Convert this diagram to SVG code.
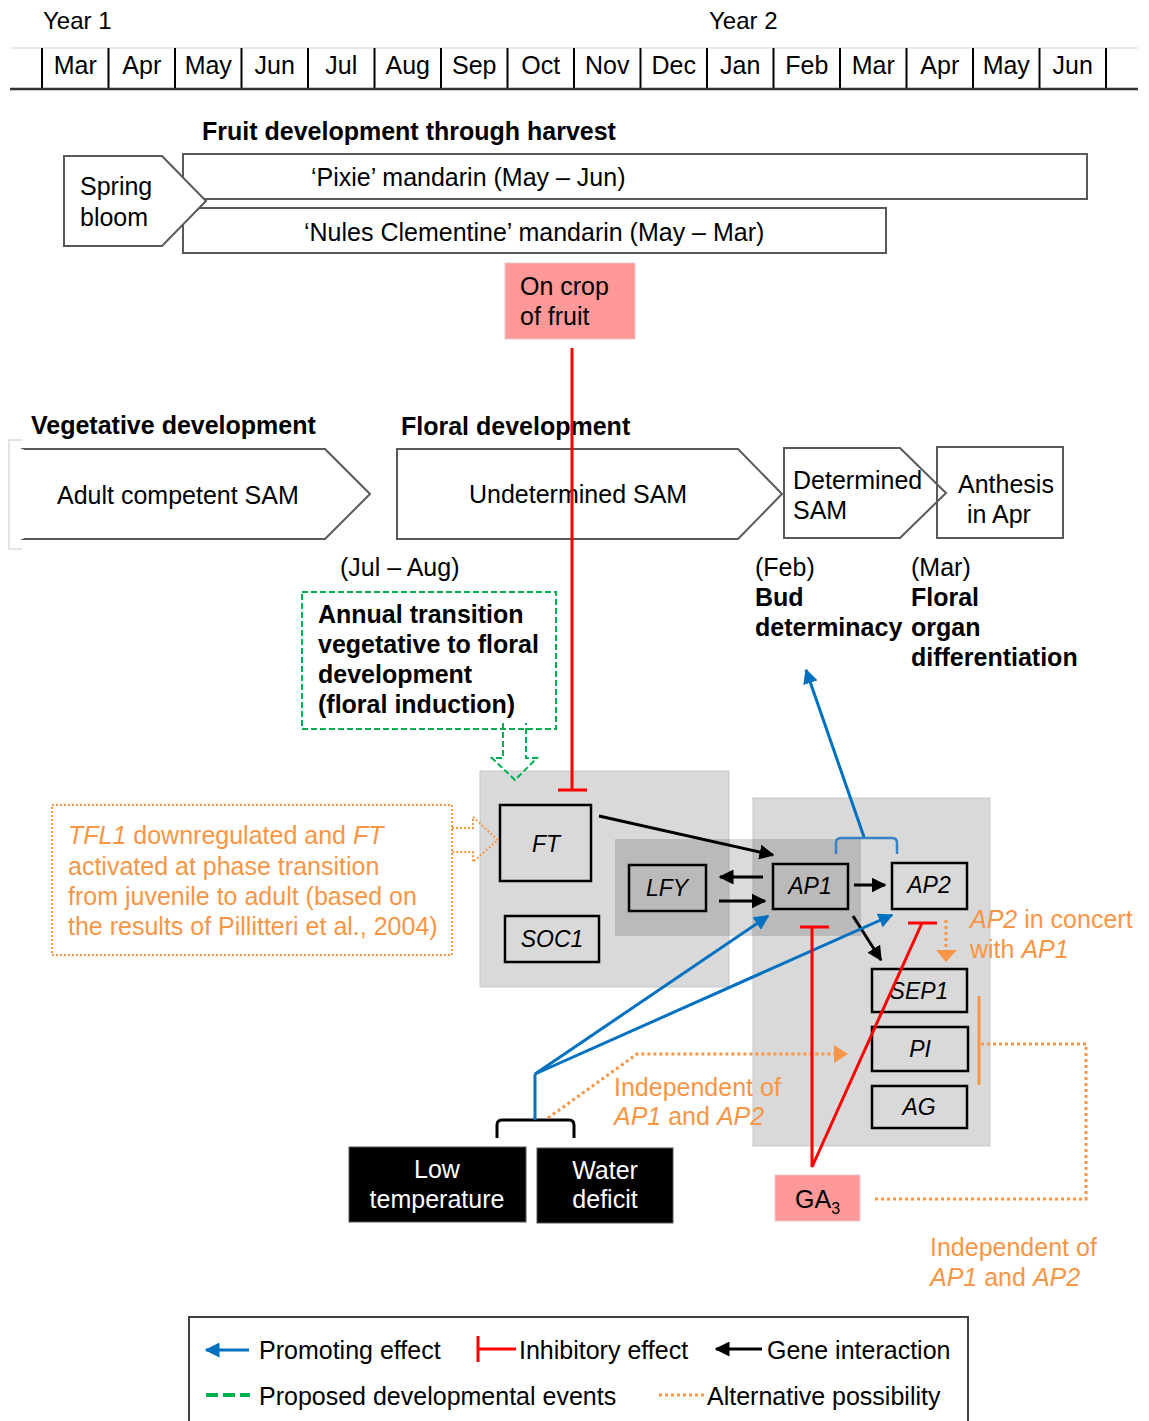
<svg xmlns="http://www.w3.org/2000/svg" width="1149" height="1421" viewBox="0 0 1149 1421">
<style>
text{font-family:"Liberation Sans",Arial,sans-serif;font-size:25px;fill:#000}
.yr{font-size:24px}
.mo{text-anchor:middle}
.b{font-weight:bold}
.it{font-style:italic}
.gene{font-size:23px;font-style:italic;text-anchor:middle}
.or{fill:#F79646}
.wh{fill:#fff;text-anchor:middle}
.shape{fill:#fff;stroke:#595959;stroke-width:2}
.gbox{fill:none;stroke:#000;stroke-width:2.5}
.panel{fill:#D9D9D9;stroke:#C8C8C8;stroke-width:1}
.pink{fill:#FF9999;stroke:#E8C8C8;stroke-width:1}
.blk{stroke:#000;stroke-width:3;fill:none}
.blue{stroke:#0070C0;stroke-width:3;fill:none}
.red{stroke:#FF0000;stroke-width:3;fill:none}
.dot{stroke:#F79646;stroke-width:3;stroke-dasharray:3 3;fill:none}
.dotthin{stroke:#F79646;stroke-width:2;stroke-dasharray:2 2;fill:none}
.gdash{stroke:#00B050;stroke-width:2;stroke-dasharray:6 3;fill:none}
</style>
<defs>
<marker id="ahK" viewBox="0 0 10 10" refX="9" refY="5" markerWidth="15" markerHeight="15" markerUnits="userSpaceOnUse" orient="auto"><path d="M0,0 L10,5 L0,10 z" fill="#000"/></marker>
<marker id="ahB" viewBox="0 0 10 10" refX="9" refY="5" markerWidth="15" markerHeight="15" markerUnits="userSpaceOnUse" orient="auto"><path d="M0,0 L10,5 L0,10 z" fill="#0070C0"/></marker>
</defs>

<g id="timeline">
<text class="yr" x="43" y="29">Year 1</text>
<text class="yr" x="709" y="29">Year 2</text>
<line x1="10" y1="48" x2="1138" y2="48" stroke="#e2e2e2" stroke-width="1.5"/>
<g stroke="#000" stroke-width="2">
<line x1="42" y1="48" x2="42" y2="88"/><line x1="108.5" y1="48" x2="108.5" y2="88"/><line x1="175" y1="48" x2="175" y2="88"/><line x1="241.5" y1="48" x2="241.5" y2="88"/><line x1="308" y1="48" x2="308" y2="88"/><line x1="374.5" y1="48" x2="374.5" y2="88"/><line x1="441" y1="48" x2="441" y2="88"/><line x1="507.5" y1="48" x2="507.5" y2="88"/><line x1="574" y1="48" x2="574" y2="88"/><line x1="640.5" y1="48" x2="640.5" y2="88"/><line x1="707" y1="48" x2="707" y2="88"/><line x1="773.5" y1="48" x2="773.5" y2="88"/><line x1="840" y1="48" x2="840" y2="88"/><line x1="906.5" y1="48" x2="906.5" y2="88"/><line x1="973" y1="48" x2="973" y2="88"/><line x1="1039.5" y1="48" x2="1039.5" y2="88"/><line x1="1106" y1="48" x2="1106" y2="88"/>
</g>
<line x1="10" y1="89" x2="1138" y2="89" stroke="#333" stroke-width="2.5"/>
<text class="mo" x="75.25" y="74">Mar</text><text class="mo" x="141.75" y="74">Apr</text><text class="mo" x="208.25" y="74">May</text><text class="mo" x="274.75" y="74">Jun</text><text class="mo" x="341.25" y="74">Jul</text><text class="mo" x="407.75" y="74">Aug</text><text class="mo" x="474.25" y="74">Sep</text><text class="mo" x="540.75" y="74">Oct</text><text class="mo" x="607.25" y="74">Nov</text><text class="mo" x="673.75" y="74">Dec</text><text class="mo" x="740.25" y="74">Jan</text><text class="mo" x="806.75" y="74">Feb</text><text class="mo" x="873.25" y="74">Mar</text><text class="mo" x="939.75" y="74">Apr</text><text class="mo" x="1006.25" y="74">May</text><text class="mo" x="1072.75" y="74">Jun</text>
</g>

<text class="b" x="202" y="140">Fruit development through  harvest</text>

<g id="pixie"><rect class="shape" x="183" y="154" width="904" height="45"/><text x="311" y="186">‘Pixie’ mandarin (May – Jun)</text></g>
<g id="nules"><rect class="shape" x="183" y="208" width="703" height="45"/><text x="304" y="241">‘Nules Clementine’ mandarin (May – Mar)</text></g>
<g id="spring-bloom"><polygon class="shape" points="64,156 162,156 206,201 162,246 64,246"/><text x="80" y="195">Spring</text><text x="80" y="226">bloom</text></g>

<g id="on-crop"><rect class="pink" x="505" y="263" width="130" height="76"/><text x="520" y="295">On crop</text><text x="520" y="325">of fruit</text></g>

<text class="b" x="31" y="434">Vegetative development</text>
<text class="b" x="401" y="435">Floral development</text>

<g id="adult-sam"><polyline points="22,440 9,440 9,549 22,549" fill="none" stroke="#dcdcdc" stroke-width="1.5"/><polygon class="shape" points="22,449 325,449 370,494 325,539 22,539" /><line x1="22" y1="449" x2="22" y2="539" stroke="#fff" stroke-width="3"/><text x="57" y="504">Adult competent SAM</text></g>
<g id="undetermined-sam"><polygon class="shape" points="397,449 738,449 782,494 738,539 397,539"/><text x="469" y="503">Undetermined SAM</text></g>
<g id="determined-sam"><polygon class="shape" points="784,448 900,448 946,493 900,538 784,538"/><text x="793" y="489">Determined</text><text x="793" y="519">SAM</text></g>
<g id="anthesis"><rect x="937" y="447" width="126" height="91" fill="none" stroke="#595959" stroke-width="2"/><text x="958" y="493">Anthesis</text><text x="967" y="523">in Apr</text></g>

<text x="340" y="576">(Jul – Aug)</text>
<g id="bud-determinacy"><text x="755" y="576">(Feb)</text><text class="b" x="755" y="606">Bud</text><text class="b" x="755" y="636">determinacy</text></g>
<g id="floral-organ"><text x="911" y="576">(Mar)</text><text class="b" x="911" y="606">Floral</text><text class="b" x="911" y="636">organ</text><text class="b" x="911" y="666">differentiation</text></g>

<g id="annual-transition"><rect class="gdash" x="302" y="592" width="254" height="137"/><text class="b" x="318" y="623">Annual transition</text><text class="b" x="318" y="653">vegetative to floral</text><text class="b" x="318" y="683">development</text><text class="b" x="318" y="713">(floral induction)</text></g>

<g id="tfl1-note"><rect class="dotthin" x="52" y="805" width="400" height="150"/>
<text class="or" x="68" y="844"><tspan class="it">TFL1</tspan> downregulated and <tspan class="it">FT</tspan></text>
<text class="or" x="68" y="875">activated at phase transition</text>
<text class="or" x="68" y="905">from juvenile to adult (based on</text>
<text class="or" x="68" y="935">the results of Pillitteri et al., 2004)</text></g>

<g id="panels">
<rect class="panel" x="480" y="771" width="249" height="216"/>
<rect class="panel" x="753" y="798" width="237" height="348"/>
<rect x="615" y="839" width="246" height="97" fill="#000" fill-opacity="0.14"/>
</g>

<g id="FT"><rect class="gbox" x="500" y="805" width="91" height="76"/><text class="gene" x="546" y="852">FT</text></g>
<g id="LFY"><rect class="gbox" x="629" y="865" width="77" height="46"/><text class="gene" x="667" y="896">LFY</text></g>
<g id="SOC1"><rect class="gbox" x="505" y="916" width="94" height="46"/><text class="gene" x="552" y="947">SOC1</text></g>
<g id="AP1"><rect class="gbox" x="773" y="864" width="75" height="45"/><text class="gene" x="810" y="894">AP1</text></g>
<g id="AP2"><rect class="gbox" x="892" y="863" width="75" height="46"/><text class="gene" x="929" y="893">AP2</text></g>
<g id="SEP1"><rect class="gbox" x="872" y="969" width="95" height="43"/><text class="gene" x="919" y="999">SEP1</text></g>
<g id="PI"><rect class="gbox" x="872" y="1027" width="96" height="44"/><text class="gene" x="920" y="1057">PI</text></g>
<g id="AG"><rect class="gbox" x="872" y="1086" width="95" height="42"/><text class="gene" x="919" y="1115">AG</text></g>

<g id="low-temperature"><rect x="349" y="1147" width="177" height="75" fill="#000" stroke="#555" stroke-width="1"/><text class="wh" x="437" y="1178">Low</text><text class="wh" x="437" y="1208">temperature</text></g>
<g id="water-deficit"><rect x="537" y="1148" width="136" height="75" fill="#000" stroke="#555" stroke-width="1"/><text class="wh" x="605" y="1179">Water</text><text class="wh" x="605" y="1208">deficit</text></g>
<g id="GA3"><rect class="pink" x="775" y="1175" width="85" height="46"/><text x="795" y="1208">GA<tspan font-size="16" dy="6">3</tspan></text></g>

<g id="notes">
<text class="or" x="970" y="928"><tspan class="it">AP2</tspan> in concert</text>
<text class="or" x="970" y="958">with <tspan class="it">AP1</tspan></text>
<text class="or" x="614" y="1096">Independent of</text>
<text class="or" x="614" y="1125"><tspan class="it">AP1</tspan> and <tspan class="it">AP2</tspan></text>
<text class="or" x="930" y="1256">Independent of</text>
<text class="or" x="930" y="1286"><tspan class="it">AP1</tspan> and <tspan class="it">AP2</tspan></text>
</g>

<g id="connectors">
<!-- green block arrow -->
<path class="gdash" d="M503,723 L503,758 L492,758 L515,780 L537,758 L526,758 L526,723"/>
<!-- orange block arrow -->
<path class="dotthin" d="M452,828 L473,828 L473,817 L498,840 L473,862 L473,852 L452,852"/>
<!-- on crop inhibits FT -->
<line class="red" x1="572" y1="348" x2="572" y2="790"/>
<line class="red" x1="558" y1="790" x2="587" y2="790"/>
<!-- gene interactions -->
<line class="blk" x1="599" y1="816" x2="773" y2="855" marker-end="url(#ahK)"/>
<line class="blk" x1="763" y1="877" x2="720" y2="877" marker-end="url(#ahK)"/>
<line class="blk" x1="719" y1="901" x2="765" y2="901" marker-end="url(#ahK)"/>
<line class="blk" x1="854" y1="885" x2="885" y2="885" marker-end="url(#ahK)"/>
<line class="blk" x1="853" y1="916" x2="881" y2="960" marker-end="url(#ahK)"/>
<!-- AP1+AP2 promote floral organ / bud determinacy -->
<path d="M836,854 L836,843 Q836,838 841,838 L892,838 Q897,838 897,843 L897,854" fill="none" stroke="#3A82C8" stroke-width="2.5"/>
<line class="blue" x1="864" y1="837" x2="806" y2="670" marker-end="url(#ahB)"/>
<!-- environment bracket -->
<path class="blk" d="M497,1138 L497,1125 Q497,1120 502,1120 L569,1120 Q574,1120 574,1125 L574,1138"/>
<polyline class="blue" points="535,1120 535,1074"/>
<line class="blue" x1="535" y1="1074" x2="768" y2="916" marker-end="url(#ahB)"/>
<line class="blue" x1="535" y1="1074" x2="892" y2="915" marker-end="url(#ahB)"/>
<!-- orange independent path -->
<polyline class="dot" points="548,1118 637,1054 834,1054"/>
<polygon points="834,1045 848,1054 834,1063" fill="#F79646"/>
<!-- GA3 inhibitions -->
<polyline class="red" points="812,927 812,1167 922,923"/>
<line class="red" x1="800" y1="927" x2="829" y2="927"/>
<line class="red" x1="908" y1="923" x2="937" y2="923"/>
<!-- AP2 in concert -->
<line class="dot" x1="946" y1="920" x2="946" y2="950"/>
<polygon points="936,950 957,950 946,962" fill="#F79646"/>
<!-- right independent path -->
<line x1="979" y1="996" x2="979" y2="1085" stroke="#F79646" stroke-width="3"/>
<polyline class="dot" points="981,1044 1086,1044 1086,1199 872,1199"/>
</g>

<g id="legend">
<rect x="189" y="1317" width="779" height="120" fill="#fff" stroke="#404040" stroke-width="2"/>
<line class="blue" x1="249" y1="1350" x2="206" y2="1350" marker-end="url(#ahB)"/>
<text x="259" y="1359">Promoting effect</text>
<line class="red" x1="478" y1="1336" x2="478" y2="1362"/>
<line class="red" x1="478" y1="1349" x2="516" y2="1349"/>
<text x="519" y="1359">Inhibitory effect</text>
<line class="blk" x1="762" y1="1349" x2="716" y2="1349" marker-end="url(#ahK)"/>
<text x="767" y="1359">Gene interaction</text>
<line x1="206" y1="1395" x2="250" y2="1395" stroke="#00B050" stroke-width="4" stroke-dasharray="12 5"/>
<text x="259" y="1405">Proposed developmental events</text>
<line class="dot" x1="659" y1="1395" x2="704" y2="1395"/>
<text x="707" y="1405">Alternative possibility</text>
</g>
</svg>
